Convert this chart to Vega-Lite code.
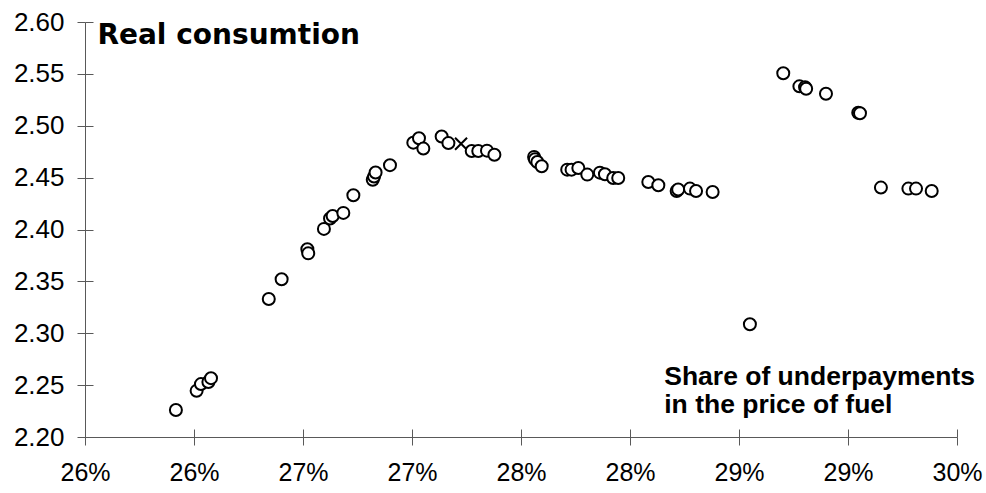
{
  "$schema": "https://vega.github.io/schema/vega-lite/v6.json",
  "width": 872,
  "height": 415,
  "autosize": "none",
  "padding": {"left": 85, "top": 22, "right": 29, "bottom": 56},
  "background": "white",
  "config": {
    "view": {"stroke": null},
    "axis": {"grid": false, "domainColor": "#595959", "tickColor": "#595959", "domainWidth": 1, "tickWidth": 1, "labelColor": "black", "labelFont": "Liberation Sans", "title": null}
  },
  "data": {
    "values": [
      {"x": 0.26167, "y": 2.226, "s": "o"},
      {"x": 0.26262, "y": 2.2445, "s": "o"},
      {"x": 0.26282, "y": 2.251, "s": "o"},
      {"x": 0.26316, "y": 2.253, "s": "o"},
      {"x": 0.26328, "y": 2.2567, "s": "o"},
      {"x": 0.26593, "y": 2.333, "s": "o"},
      {"x": 0.26652, "y": 2.352, "s": "o"},
      {"x": 0.2677, "y": 2.381, "s": "o"},
      {"x": 0.26774, "y": 2.377, "s": "o"},
      {"x": 0.26846, "y": 2.4006, "s": "o"},
      {"x": 0.26874, "y": 2.4106, "s": "o"},
      {"x": 0.26886, "y": 2.413, "s": "o"},
      {"x": 0.26935, "y": 2.416, "s": "o"},
      {"x": 0.26981, "y": 2.433, "s": "o"},
      {"x": 0.2707, "y": 2.448, "s": "o"},
      {"x": 0.27076, "y": 2.451, "s": "o"},
      {"x": 0.27083, "y": 2.455, "s": "o"},
      {"x": 0.27149, "y": 2.462, "s": "o"},
      {"x": 0.27256, "y": 2.4837, "s": "o"},
      {"x": 0.27282, "y": 2.488, "s": "o"},
      {"x": 0.27302, "y": 2.478, "s": "o"},
      {"x": 0.27386, "y": 2.4897, "s": "o"},
      {"x": 0.27417, "y": 2.4833, "s": "o"},
      {"x": 0.27475, "y": 2.4827, "s": "x"},
      {"x": 0.27524, "y": 2.4756, "s": "o"},
      {"x": 0.27554, "y": 2.4756, "s": "o"},
      {"x": 0.27594, "y": 2.476, "s": "o"},
      {"x": 0.27628, "y": 2.472, "s": "o"},
      {"x": 0.2781, "y": 2.47, "s": "o"},
      {"x": 0.27814, "y": 2.4676, "s": "o"},
      {"x": 0.27825, "y": 2.465, "s": "o"},
      {"x": 0.27845, "y": 2.461, "s": "o"},
      {"x": 0.27962, "y": 2.4577, "s": "o"},
      {"x": 0.27982, "y": 2.4577, "s": "o"},
      {"x": 0.28013, "y": 2.4593, "s": "o"},
      {"x": 0.28054, "y": 2.4529, "s": "o"},
      {"x": 0.28112, "y": 2.4548, "s": "o"},
      {"x": 0.28135, "y": 2.4532, "s": "o"},
      {"x": 0.28173, "y": 2.4496, "s": "o"},
      {"x": 0.28196, "y": 2.4496, "s": "o"},
      {"x": 0.28334, "y": 2.4458, "s": "o"},
      {"x": 0.2838, "y": 2.4426, "s": "o"},
      {"x": 0.28464, "y": 2.4371, "s": "o"},
      {"x": 0.28471, "y": 2.4385, "s": "o"},
      {"x": 0.28525, "y": 2.4394, "s": "o"},
      {"x": 0.28553, "y": 2.4371, "s": "o"},
      {"x": 0.28629, "y": 2.4362, "s": "o"},
      {"x": 0.288, "y": 2.3087, "s": "o"},
      {"x": 0.28953, "y": 2.5506, "s": "o"},
      {"x": 0.29027, "y": 2.538, "s": "o"},
      {"x": 0.29053, "y": 2.5371, "s": "o"},
      {"x": 0.29058, "y": 2.5356, "s": "o"},
      {"x": 0.29149, "y": 2.5308, "s": "o"},
      {"x": 0.29297, "y": 2.5125, "s": "o"},
      {"x": 0.29305, "y": 2.5121, "s": "o"},
      {"x": 0.29401, "y": 2.4404, "s": "o"},
      {"x": 0.29527, "y": 2.4394, "s": "o"},
      {"x": 0.29562, "y": 2.4394, "s": "o"},
      {"x": 0.29634, "y": 2.4371, "s": "o"}
    ]
  },
  "layer": [
    {
      "mark": {"type": "point", "opacity": 0},
      "encoding": {
        "x": {"field": "x", "type": "quantitative", "scale": {"domain": [0.2575, 0.2975], "nice": false, "zero": false},
          "axis": {"orient": "bottom", "offset": -8, "tickSize": 8, "labels": false, "domain": false, "values": [0.2575, 0.2625, 0.2675, 0.2725, 0.2775, 0.2825, 0.2875, 0.2925, 0.2975]}},
        "y": {"field": "y", "type": "quantitative", "scale": {"domain": [2.2, 2.6], "nice": false, "zero": false},
          "axis": {"orient": "left", "offset": -8, "tickSize": 8, "labels": false, "domain": false, "values": [2.2, 2.25, 2.3, 2.35, 2.4, 2.45, 2.5, 2.55, 2.6]}}
      }
    },
    {
      "mark": {"type": "point", "filled": false, "fill": "white", "stroke": "black", "strokeWidth": 2, "size": 144, "opacity": 1},
      "encoding": {
        "x": {"field": "x", "type": "quantitative",
          "axis": {"orient": "bottom", "tickSize": 8, "labelFontSize": 25, "labelPadding": 15, "format": ".0%", "values": [0.2575, 0.2625, 0.2675, 0.2725, 0.2775, 0.2825, 0.2875, 0.2925, 0.2975], "labelFlush": false, "labelOverlap": false}},
        "y": {"field": "y", "type": "quantitative",
          "axis": {"orient": "left", "tickSize": 8, "labelFontSize": 26, "labelPadding": 13, "format": ".2f", "values": [2.2, 2.25, 2.3, 2.35, 2.4, 2.45, 2.5, 2.55, 2.6], "labelFlush": false, "labelOverlap": false}},
        "shape": {"field": "s", "type": "nominal", "scale": {"domain": ["o", "x"], "range": ["circle", "M-1,-1L1,1M-1,1L1,-1"]}, "legend": null}
      }
    },
    {
      "data": {"values": [{}]},
      "mark": {"type": "text", "text": "Real consumtion", "align": "left", "baseline": "alphabetic", "font": "DejaVu Sans", "fontWeight": "bold", "fontSize": 28, "color": "black"},
      "encoding": {
        "x": {"datum": 0.25807, "type": "quantitative", "axis": null},
        "y": {"datum": 2.5785, "type": "quantitative", "axis": null}
      }
    },
    {
      "data": {"values": [{}]},
      "mark": {"type": "text", "text": ["Share of underpayments", "in the price of fuel"], "align": "left", "baseline": "alphabetic", "lineHeight": 28, "font": "Liberation Sans", "fontWeight": "bold", "fontSize": 26.5, "color": "black"},
      "encoding": {
        "x": {"datum": 0.28407, "type": "quantitative", "axis": null},
        "y": {"datum": 2.2503, "type": "quantitative", "axis": null}
      }
    }
  ],
  "resolve": {"axis": {"x": "independent", "y": "independent"}}
}
